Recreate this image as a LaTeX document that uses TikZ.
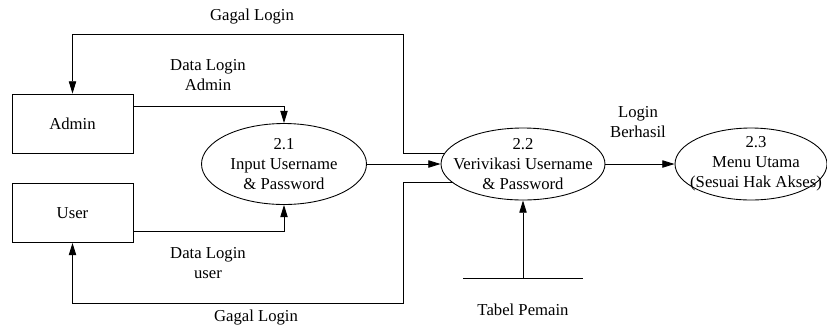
\documentclass[tikz,border=0pt]{standalone}
\usepackage{fontspec}
\setmainfont{Liberation Serif}
\usepackage{tikz}
\usetikzlibrary{arrows.meta, calc, positioning, shapes}

\begin{document}
\begin{tikzpicture}[x=0.02cm, y=-0.02cm,
	font=\fontsize{9.5}{11.5}\selectfont,
	every path/.style={line width=0.5pt},
	flow/.style={-{Triangle[length=7pt, width=4.2pt]}},
	entity/.style={draw, rectangle, minimum width=2.42cm, minimum height=1.18cm},
	proc/.style={draw, ellipse, inner sep=0pt},
	txt/.style={align=center, inner sep=0pt}]

\useasboundingbox (0,0) rectangle (827,329);

% external entities
\node[entity] (admin) at (72.5, 123.5) {Admin};
\node[entity] (user)  at (72.5, 213)   {User};

% processes
\node[proc, minimum width=3.3cm,  minimum height=1.62cm] (p1) at (284, 164) {};
\node[proc, minimum width=3.28cm, minimum height=1.44cm] (p2) at (523, 164) {};
\node[proc, minimum width=3.04cm, minimum height=1.44cm] (p3) at (751, 164) {};

\node[txt] (p1 text) at (p1) {2.1\\Input Username\\\& Password};
\node[txt] (p2 text) at (p2) {2.2\\Verivikasi Username\\\& Password};
\node[txt] (p3 text) at ($(p3)+(5,0)$) {2.3\\Menu Utama\\(Sesuai Hak Akses)};

% data store
\coordinate (store) at (523, 278);
\draw ($(store)+(-60,0)$) -- ($(store)+(60,0)$); % store line
\node (tabel) at (523, 310) {Tabel Pemain};

% turning points of the failed login lines
\coordinate (fail top) at (403, 34);
\coordinate (fail bottom) at (403, 303);

% data flows
\draw[flow] ($(admin.north east)+(0,13)$) -| (p1.north);
\draw[flow] ($(user.south east)+(0,-12)$) -| (p1.south);
\draw[flow] (p1.east) -- (p2.west);
\draw[flow] (p2.east) -- (p3.west);
\draw[flow] (store) -- (p2.south);
\draw[flow] (p2.172) -| (fail top) -| (admin.north); % gagal login admin
\draw[flow] (p2.195) -| (fail bottom) -| (user.south); % gagal login user

% flow labels
\node[txt] (admin data) at (208, 75)  {Data Login\\Admin};
\node[txt] (user data)  at (208, 263) {Data Login\\user};
\node[txt] (berhasil)   at (638, 122) {Login\\Berhasil};
\node (fail top label)    at (252, 17)  {Gagal Login};
\node (fail bottom label) at (256, 317) {Gagal Login};

\end{tikzpicture}
\end{document}
